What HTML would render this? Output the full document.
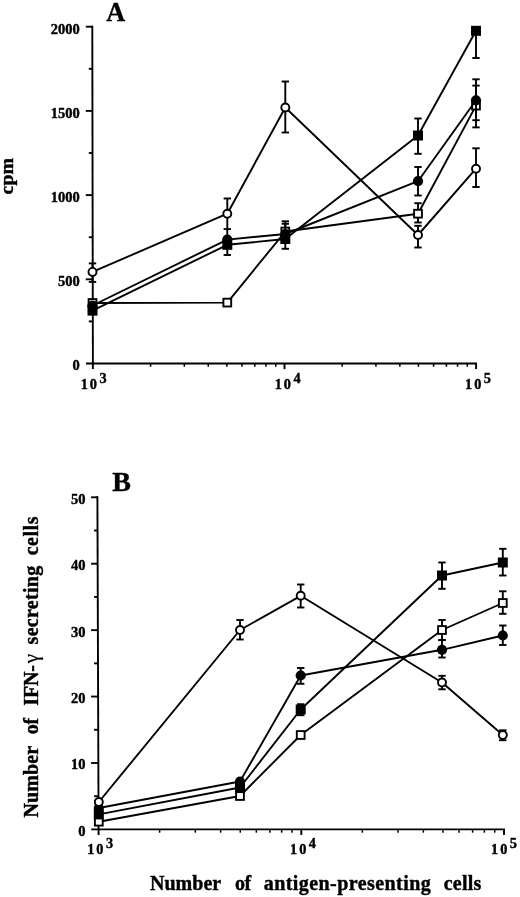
<!DOCTYPE html>
<html><head><meta charset="utf-8"><title>Figure</title>
<style>html,body{margin:0;padding:0;background:#fff;}text{stroke:#000;stroke-width:0.4px;stroke-linejoin:round}body{width:520px;height:897px;position:relative;overflow:hidden;font-family:"Liberation Serif",serif;}</style>
</head><body>
<svg width="520" height="897" viewBox="0 0 520 897" style="display:block;position:absolute;left:0;top:0;will-change:transform;filter:blur(0.45px)" font-family="'Liberation Serif', serif" font-weight="bold" fill="#000" stroke="none">
<rect x="0" y="0" width="520" height="897" fill="#fff"/>
<line x1="92.30" y1="25.75" x2="92.90" y2="369.10" stroke="#000" stroke-width="1.9" stroke-linecap="butt"/>
<line x1="86.00" y1="363.50" x2="477.05" y2="363.50" stroke="#000" stroke-width="1.9" stroke-linecap="butt"/>
<line x1="85.80" y1="279.30" x2="92.60" y2="279.30" stroke="#000" stroke-width="1.9" stroke-linecap="butt"/>
<line x1="85.80" y1="195.10" x2="92.60" y2="195.10" stroke="#000" stroke-width="1.9" stroke-linecap="butt"/>
<line x1="85.80" y1="110.90" x2="92.60" y2="110.90" stroke="#000" stroke-width="1.9" stroke-linecap="butt"/>
<line x1="85.80" y1="26.70" x2="92.60" y2="26.70" stroke="#000" stroke-width="1.9" stroke-linecap="butt"/>
<line x1="88.80" y1="321.40" x2="92.60" y2="321.40" stroke="#000" stroke-width="1.9" stroke-linecap="butt"/>
<line x1="88.80" y1="237.20" x2="92.60" y2="237.20" stroke="#000" stroke-width="1.9" stroke-linecap="butt"/>
<line x1="88.80" y1="153.00" x2="92.60" y2="153.00" stroke="#000" stroke-width="1.9" stroke-linecap="butt"/>
<line x1="88.80" y1="68.80" x2="92.60" y2="68.80" stroke="#000" stroke-width="1.9" stroke-linecap="butt"/>
<line x1="150.58" y1="363.50" x2="150.58" y2="366.80" stroke="#000" stroke-width="1.5" stroke-linecap="butt"/>
<line x1="184.32" y1="363.50" x2="184.32" y2="366.80" stroke="#000" stroke-width="1.5" stroke-linecap="butt"/>
<line x1="208.25" y1="363.50" x2="208.25" y2="366.80" stroke="#000" stroke-width="1.5" stroke-linecap="butt"/>
<line x1="226.82" y1="363.50" x2="226.82" y2="366.80" stroke="#000" stroke-width="1.5" stroke-linecap="butt"/>
<line x1="241.99" y1="363.50" x2="241.99" y2="366.80" stroke="#000" stroke-width="1.5" stroke-linecap="butt"/>
<line x1="254.82" y1="363.50" x2="254.82" y2="366.80" stroke="#000" stroke-width="1.5" stroke-linecap="butt"/>
<line x1="265.93" y1="363.50" x2="265.93" y2="366.80" stroke="#000" stroke-width="1.5" stroke-linecap="butt"/>
<line x1="275.73" y1="363.50" x2="275.73" y2="366.80" stroke="#000" stroke-width="1.5" stroke-linecap="butt"/>
<line x1="342.18" y1="363.50" x2="342.18" y2="366.80" stroke="#000" stroke-width="1.5" stroke-linecap="butt"/>
<line x1="375.92" y1="363.50" x2="375.92" y2="366.80" stroke="#000" stroke-width="1.5" stroke-linecap="butt"/>
<line x1="399.85" y1="363.50" x2="399.85" y2="366.80" stroke="#000" stroke-width="1.5" stroke-linecap="butt"/>
<line x1="418.42" y1="363.50" x2="418.42" y2="366.80" stroke="#000" stroke-width="1.5" stroke-linecap="butt"/>
<line x1="433.59" y1="363.50" x2="433.59" y2="366.80" stroke="#000" stroke-width="1.5" stroke-linecap="butt"/>
<line x1="446.42" y1="363.50" x2="446.42" y2="366.80" stroke="#000" stroke-width="1.5" stroke-linecap="butt"/>
<line x1="457.53" y1="363.50" x2="457.53" y2="366.80" stroke="#000" stroke-width="1.5" stroke-linecap="butt"/>
<line x1="467.33" y1="363.50" x2="467.33" y2="366.80" stroke="#000" stroke-width="1.5" stroke-linecap="butt"/>
<line x1="284.50" y1="363.50" x2="284.50" y2="369.10" stroke="#000" stroke-width="1.9" stroke-linecap="butt"/>
<line x1="476.10" y1="363.50" x2="476.10" y2="369.10" stroke="#000" stroke-width="1.9" stroke-linecap="butt"/>
<text x="79.80" y="370.30" font-size="14.5" text-anchor="end" >0</text>
<text x="79.80" y="286.10" font-size="14.5" text-anchor="end" >500</text>
<text x="79.80" y="201.90" font-size="14.5" text-anchor="end" >1000</text>
<text x="79.80" y="117.70" font-size="14.5" text-anchor="end" >1500</text>
<text x="79.80" y="33.50" font-size="14.5" text-anchor="end" >2000</text>
<text x="80.80" y="388.90" font-size="14.3" letter-spacing="1.9">10</text>
<text x="99.40" y="382.60" font-size="14.3">3</text>
<text x="274.80" y="388.90" font-size="14.3" letter-spacing="1.9">10</text>
<text x="293.40" y="382.60" font-size="14.3">4</text>
<text x="465.10" y="388.90" font-size="14.3" letter-spacing="1.9">10</text>
<text x="483.70" y="382.60" font-size="14.3">5</text>
<text transform="translate(106.2,21.4) scale(0.94,1)" font-size="28">A</text>
<text transform="translate(12.8,194.4) rotate(-90)" font-size="19.8">cpm</text>
<polyline fill="none" stroke="#000" stroke-width="1.9" stroke-linejoin="round" points="92.50,303.00 227.30,302.60 285.30,231.50 418.00,213.70 476.00,105.60"/>
<line x1="285.30" y1="223.80" x2="285.30" y2="239.00" stroke="#000" stroke-width="1.9" stroke-linecap="butt"/>
<line x1="281.60" y1="223.80" x2="289.00" y2="223.80" stroke="#000" stroke-width="1.9" stroke-linecap="butt"/>
<line x1="281.60" y1="239.00" x2="289.00" y2="239.00" stroke="#000" stroke-width="1.9" stroke-linecap="butt"/>
<line x1="418.00" y1="203.20" x2="418.00" y2="222.50" stroke="#000" stroke-width="1.9" stroke-linecap="butt"/>
<line x1="414.30" y1="203.20" x2="421.70" y2="203.20" stroke="#000" stroke-width="1.9" stroke-linecap="butt"/>
<line x1="414.30" y1="222.50" x2="421.70" y2="222.50" stroke="#000" stroke-width="1.9" stroke-linecap="butt"/>
<line x1="476.00" y1="85.60" x2="476.00" y2="127.40" stroke="#000" stroke-width="1.9" stroke-linecap="butt"/>
<line x1="472.30" y1="85.60" x2="479.70" y2="85.60" stroke="#000" stroke-width="1.9" stroke-linecap="butt"/>
<line x1="472.30" y1="127.40" x2="479.70" y2="127.40" stroke="#000" stroke-width="1.9" stroke-linecap="butt"/>
<rect x="88.60" y="299.10" width="7.80" height="7.80" fill="#fff" stroke="#000" stroke-width="1.9"/>
<rect x="223.40" y="298.70" width="7.80" height="7.80" fill="#fff" stroke="#000" stroke-width="1.9"/>
<rect x="281.40" y="227.60" width="7.80" height="7.80" fill="#fff" stroke="#000" stroke-width="1.9"/>
<rect x="414.10" y="209.80" width="7.80" height="7.80" fill="#fff" stroke="#000" stroke-width="1.9"/>
<rect x="472.10" y="101.70" width="7.80" height="7.80" fill="#fff" stroke="#000" stroke-width="1.9"/>
<polyline fill="none" stroke="#000" stroke-width="1.9" stroke-linejoin="round" points="92.50,305.50 227.30,239.60 285.30,234.00 418.00,181.20 476.00,100.30"/>
<line x1="227.30" y1="229.10" x2="227.30" y2="240.00" stroke="#000" stroke-width="1.9" stroke-linecap="butt"/>
<line x1="285.30" y1="221.30" x2="285.30" y2="240.00" stroke="#000" stroke-width="1.9" stroke-linecap="butt"/>
<line x1="281.60" y1="221.30" x2="289.00" y2="221.30" stroke="#000" stroke-width="1.9" stroke-linecap="butt"/>
<line x1="418.00" y1="167.00" x2="418.00" y2="195.50" stroke="#000" stroke-width="1.9" stroke-linecap="butt"/>
<line x1="414.30" y1="167.00" x2="421.70" y2="167.00" stroke="#000" stroke-width="1.9" stroke-linecap="butt"/>
<line x1="414.30" y1="195.50" x2="421.70" y2="195.50" stroke="#000" stroke-width="1.9" stroke-linecap="butt"/>
<line x1="476.00" y1="79.30" x2="476.00" y2="120.20" stroke="#000" stroke-width="1.9" stroke-linecap="butt"/>
<line x1="472.30" y1="79.30" x2="479.70" y2="79.30" stroke="#000" stroke-width="1.9" stroke-linecap="butt"/>
<line x1="472.30" y1="120.20" x2="479.70" y2="120.20" stroke="#000" stroke-width="1.9" stroke-linecap="butt"/>
<circle cx="92.50" cy="305.50" r="5.10" fill="#000"/>
<circle cx="227.30" cy="239.60" r="5.10" fill="#000"/>
<circle cx="285.30" cy="234.00" r="5.10" fill="#000"/>
<circle cx="418.00" cy="181.20" r="5.10" fill="#000"/>
<circle cx="476.00" cy="100.30" r="5.10" fill="#000"/>
<polyline fill="none" stroke="#000" stroke-width="1.9" stroke-linejoin="round" points="92.50,310.60 227.30,244.80 285.30,239.00 418.00,135.50 476.00,30.80"/>
<line x1="227.30" y1="236.00" x2="227.30" y2="255.00" stroke="#000" stroke-width="1.9" stroke-linecap="butt"/>
<line x1="223.60" y1="255.00" x2="231.00" y2="255.00" stroke="#000" stroke-width="1.9" stroke-linecap="butt"/>
<line x1="285.30" y1="230.00" x2="285.30" y2="248.80" stroke="#000" stroke-width="1.9" stroke-linecap="butt"/>
<line x1="281.60" y1="248.80" x2="289.00" y2="248.80" stroke="#000" stroke-width="1.9" stroke-linecap="butt"/>
<line x1="418.00" y1="118.50" x2="418.00" y2="153.80" stroke="#000" stroke-width="1.9" stroke-linecap="butt"/>
<line x1="414.30" y1="118.50" x2="421.70" y2="118.50" stroke="#000" stroke-width="1.9" stroke-linecap="butt"/>
<line x1="414.30" y1="153.80" x2="421.70" y2="153.80" stroke="#000" stroke-width="1.9" stroke-linecap="butt"/>
<line x1="476.00" y1="30.80" x2="476.00" y2="58.00" stroke="#000" stroke-width="1.9" stroke-linecap="butt"/>
<line x1="472.30" y1="58.00" x2="479.70" y2="58.00" stroke="#000" stroke-width="1.9" stroke-linecap="butt"/>
<rect x="87.50" y="305.60" width="10.00" height="10.00" fill="#000"/>
<rect x="222.30" y="239.80" width="10.00" height="10.00" fill="#000"/>
<rect x="280.30" y="234.00" width="10.00" height="10.00" fill="#000"/>
<rect x="413.00" y="130.50" width="10.00" height="10.00" fill="#000"/>
<rect x="471.00" y="25.80" width="10.00" height="10.00" fill="#000"/>
<polyline fill="none" stroke="#000" stroke-width="1.9" stroke-linejoin="round" points="92.50,271.90 227.30,213.70 285.30,107.50 418.00,235.00 476.00,168.70"/>
<line x1="92.50" y1="263.40" x2="92.50" y2="281.90" stroke="#000" stroke-width="1.9" stroke-linecap="butt"/>
<line x1="88.80" y1="263.40" x2="96.20" y2="263.40" stroke="#000" stroke-width="1.9" stroke-linecap="butt"/>
<line x1="88.80" y1="281.90" x2="96.20" y2="281.90" stroke="#000" stroke-width="1.9" stroke-linecap="butt"/>
<line x1="227.30" y1="198.50" x2="227.30" y2="229.10" stroke="#000" stroke-width="1.9" stroke-linecap="butt"/>
<line x1="223.60" y1="198.50" x2="231.00" y2="198.50" stroke="#000" stroke-width="1.9" stroke-linecap="butt"/>
<line x1="223.60" y1="229.10" x2="231.00" y2="229.10" stroke="#000" stroke-width="1.9" stroke-linecap="butt"/>
<line x1="285.30" y1="81.50" x2="285.30" y2="132.50" stroke="#000" stroke-width="1.9" stroke-linecap="butt"/>
<line x1="281.60" y1="81.50" x2="289.00" y2="81.50" stroke="#000" stroke-width="1.9" stroke-linecap="butt"/>
<line x1="281.60" y1="132.50" x2="289.00" y2="132.50" stroke="#000" stroke-width="1.9" stroke-linecap="butt"/>
<line x1="418.00" y1="225.80" x2="418.00" y2="247.50" stroke="#000" stroke-width="1.9" stroke-linecap="butt"/>
<line x1="414.30" y1="225.80" x2="421.70" y2="225.80" stroke="#000" stroke-width="1.9" stroke-linecap="butt"/>
<line x1="414.30" y1="247.50" x2="421.70" y2="247.50" stroke="#000" stroke-width="1.9" stroke-linecap="butt"/>
<line x1="476.00" y1="148.30" x2="476.00" y2="187.00" stroke="#000" stroke-width="1.9" stroke-linecap="butt"/>
<line x1="472.30" y1="148.30" x2="479.70" y2="148.30" stroke="#000" stroke-width="1.9" stroke-linecap="butt"/>
<line x1="472.30" y1="187.00" x2="479.70" y2="187.00" stroke="#000" stroke-width="1.9" stroke-linecap="butt"/>
<circle cx="92.50" cy="271.90" r="4.00" fill="#fff" stroke="#000" stroke-width="1.9"/>
<circle cx="227.30" cy="213.70" r="4.00" fill="#fff" stroke="#000" stroke-width="1.9"/>
<circle cx="285.30" cy="107.50" r="4.00" fill="#fff" stroke="#000" stroke-width="1.9"/>
<circle cx="418.00" cy="235.00" r="4.00" fill="#fff" stroke="#000" stroke-width="1.9"/>
<circle cx="476.00" cy="168.70" r="4.00" fill="#fff" stroke="#000" stroke-width="1.9"/>
<line x1="97.40" y1="496.35" x2="98.60" y2="835.00" stroke="#000" stroke-width="1.9" stroke-linecap="butt"/>
<line x1="91.30" y1="829.40" x2="504.95" y2="829.40" stroke="#000" stroke-width="1.9" stroke-linecap="butt"/>
<line x1="91.10" y1="762.98" x2="97.90" y2="762.98" stroke="#000" stroke-width="1.9" stroke-linecap="butt"/>
<line x1="91.10" y1="696.56" x2="97.90" y2="696.56" stroke="#000" stroke-width="1.9" stroke-linecap="butt"/>
<line x1="91.10" y1="630.14" x2="97.90" y2="630.14" stroke="#000" stroke-width="1.9" stroke-linecap="butt"/>
<line x1="91.10" y1="563.72" x2="97.90" y2="563.72" stroke="#000" stroke-width="1.9" stroke-linecap="butt"/>
<line x1="91.10" y1="497.30" x2="97.90" y2="497.30" stroke="#000" stroke-width="1.9" stroke-linecap="butt"/>
<line x1="94.10" y1="796.19" x2="97.90" y2="796.19" stroke="#000" stroke-width="1.9" stroke-linecap="butt"/>
<line x1="94.10" y1="729.77" x2="97.90" y2="729.77" stroke="#000" stroke-width="1.9" stroke-linecap="butt"/>
<line x1="94.10" y1="663.35" x2="97.90" y2="663.35" stroke="#000" stroke-width="1.9" stroke-linecap="butt"/>
<line x1="94.10" y1="596.93" x2="97.90" y2="596.93" stroke="#000" stroke-width="1.9" stroke-linecap="butt"/>
<line x1="94.10" y1="530.51" x2="97.90" y2="530.51" stroke="#000" stroke-width="1.9" stroke-linecap="butt"/>
<line x1="159.62" y1="829.40" x2="159.62" y2="832.70" stroke="#000" stroke-width="1.5" stroke-linecap="butt"/>
<line x1="195.31" y1="829.40" x2="195.31" y2="832.70" stroke="#000" stroke-width="1.5" stroke-linecap="butt"/>
<line x1="220.64" y1="829.40" x2="220.64" y2="832.70" stroke="#000" stroke-width="1.5" stroke-linecap="butt"/>
<line x1="240.28" y1="829.40" x2="240.28" y2="832.70" stroke="#000" stroke-width="1.5" stroke-linecap="butt"/>
<line x1="256.33" y1="829.40" x2="256.33" y2="832.70" stroke="#000" stroke-width="1.5" stroke-linecap="butt"/>
<line x1="269.90" y1="829.40" x2="269.90" y2="832.70" stroke="#000" stroke-width="1.5" stroke-linecap="butt"/>
<line x1="281.66" y1="829.40" x2="281.66" y2="832.70" stroke="#000" stroke-width="1.5" stroke-linecap="butt"/>
<line x1="292.02" y1="829.40" x2="292.02" y2="832.70" stroke="#000" stroke-width="1.5" stroke-linecap="butt"/>
<line x1="362.32" y1="829.40" x2="362.32" y2="832.70" stroke="#000" stroke-width="1.5" stroke-linecap="butt"/>
<line x1="398.01" y1="829.40" x2="398.01" y2="832.70" stroke="#000" stroke-width="1.5" stroke-linecap="butt"/>
<line x1="423.34" y1="829.40" x2="423.34" y2="832.70" stroke="#000" stroke-width="1.5" stroke-linecap="butt"/>
<line x1="442.98" y1="829.40" x2="442.98" y2="832.70" stroke="#000" stroke-width="1.5" stroke-linecap="butt"/>
<line x1="459.03" y1="829.40" x2="459.03" y2="832.70" stroke="#000" stroke-width="1.5" stroke-linecap="butt"/>
<line x1="472.60" y1="829.40" x2="472.60" y2="832.70" stroke="#000" stroke-width="1.5" stroke-linecap="butt"/>
<line x1="484.36" y1="829.40" x2="484.36" y2="832.70" stroke="#000" stroke-width="1.5" stroke-linecap="butt"/>
<line x1="494.72" y1="829.40" x2="494.72" y2="832.70" stroke="#000" stroke-width="1.5" stroke-linecap="butt"/>
<line x1="301.30" y1="829.40" x2="301.30" y2="835.00" stroke="#000" stroke-width="1.9" stroke-linecap="butt"/>
<line x1="504.00" y1="829.40" x2="504.00" y2="835.00" stroke="#000" stroke-width="1.9" stroke-linecap="butt"/>
<text x="85.40" y="835.90" font-size="14.5" text-anchor="end" >0</text>
<text x="85.40" y="769.48" font-size="14.5" text-anchor="end" >10</text>
<text x="85.40" y="703.06" font-size="14.5" text-anchor="end" >20</text>
<text x="85.40" y="636.64" font-size="14.5" text-anchor="end" >30</text>
<text x="85.40" y="570.22" font-size="14.5" text-anchor="end" >40</text>
<text x="85.40" y="503.80" font-size="14.5" text-anchor="end" >50</text>
<text x="87.30" y="854.30" font-size="14.3" letter-spacing="1.9">10</text>
<text x="105.90" y="848.00" font-size="14.3">3</text>
<text x="290.10" y="854.30" font-size="14.3" letter-spacing="1.9">10</text>
<text x="308.70" y="848.00" font-size="14.3">4</text>
<text x="491.10" y="854.30" font-size="14.3" letter-spacing="1.9">10</text>
<text x="509.70" y="848.00" font-size="14.3">5</text>
<text x="112.30" y="490.70" font-size="28" text-anchor="start" >B</text>
<g transform="translate(37.5,0) rotate(-90)">
<text x="-817.50" y="0.00" font-size="20" textLength="71.60" lengthAdjust="spacing" >Number</text>
<text x="-734.30" y="0.00" font-size="20" textLength="16.50" lengthAdjust="spacing" >of</text>
<text x="-705.70" y="0.00" font-size="20" textLength="40.70" lengthAdjust="spacing" >IFN-</text>
<text x="-663.3" y="0" font-size="21" font-weight="normal" style="stroke-width:0.2px">γ</text>
<text x="-644.40" y="0.00" font-size="20" textLength="78.60" lengthAdjust="spacing" >secreting</text>
<text x="-555.30" y="0.00" font-size="20" textLength="38.80" lengthAdjust="spacing" >cells</text>
</g>
<text x="150.00" y="890.30" font-size="20" textLength="71.25" lengthAdjust="spacing" >Number</text>
<text x="235.00" y="890.30" font-size="20" textLength="16.25" lengthAdjust="spacing" >of</text>
<text x="263.75" y="890.30" font-size="20" textLength="167.00" lengthAdjust="spacing" >antigen-presenting</text>
<text x="443.75" y="890.30" font-size="20" textLength="37.50" lengthAdjust="spacing" >cells</text>
<polyline fill="none" stroke="#000" stroke-width="1.9" stroke-linejoin="round" points="98.80,821.70 240.00,796.00 300.70,735.00 442.00,630.00 502.80,603.00"/>
<line x1="442.00" y1="620.00" x2="442.00" y2="640.00" stroke="#000" stroke-width="1.9" stroke-linecap="butt"/>
<line x1="438.30" y1="620.00" x2="445.70" y2="620.00" stroke="#000" stroke-width="1.9" stroke-linecap="butt"/>
<line x1="438.30" y1="640.00" x2="445.70" y2="640.00" stroke="#000" stroke-width="1.9" stroke-linecap="butt"/>
<line x1="502.80" y1="591.30" x2="502.80" y2="613.80" stroke="#000" stroke-width="1.9" stroke-linecap="butt"/>
<line x1="499.10" y1="591.30" x2="506.50" y2="591.30" stroke="#000" stroke-width="1.9" stroke-linecap="butt"/>
<line x1="499.10" y1="613.80" x2="506.50" y2="613.80" stroke="#000" stroke-width="1.9" stroke-linecap="butt"/>
<rect x="94.90" y="817.80" width="7.80" height="7.80" fill="#fff" stroke="#000" stroke-width="1.9"/>
<rect x="236.10" y="792.10" width="7.80" height="7.80" fill="#fff" stroke="#000" stroke-width="1.9"/>
<rect x="296.80" y="731.10" width="7.80" height="7.80" fill="#fff" stroke="#000" stroke-width="1.9"/>
<rect x="438.10" y="626.10" width="7.80" height="7.80" fill="#fff" stroke="#000" stroke-width="1.9"/>
<rect x="498.90" y="599.10" width="7.80" height="7.80" fill="#fff" stroke="#000" stroke-width="1.9"/>
<polyline fill="none" stroke="#000" stroke-width="1.9" stroke-linejoin="round" points="98.80,808.00 240.00,781.50 300.70,675.50 442.00,649.80 502.80,635.50"/>
<line x1="300.70" y1="668.00" x2="300.70" y2="683.80" stroke="#000" stroke-width="1.9" stroke-linecap="butt"/>
<line x1="297.00" y1="668.00" x2="304.40" y2="668.00" stroke="#000" stroke-width="1.9" stroke-linecap="butt"/>
<line x1="297.00" y1="683.80" x2="304.40" y2="683.80" stroke="#000" stroke-width="1.9" stroke-linecap="butt"/>
<line x1="442.00" y1="640.00" x2="442.00" y2="657.50" stroke="#000" stroke-width="1.9" stroke-linecap="butt"/>
<line x1="438.30" y1="640.00" x2="445.70" y2="640.00" stroke="#000" stroke-width="1.9" stroke-linecap="butt"/>
<line x1="438.30" y1="657.50" x2="445.70" y2="657.50" stroke="#000" stroke-width="1.9" stroke-linecap="butt"/>
<line x1="502.80" y1="625.50" x2="502.80" y2="645.00" stroke="#000" stroke-width="1.9" stroke-linecap="butt"/>
<line x1="499.10" y1="625.50" x2="506.50" y2="625.50" stroke="#000" stroke-width="1.9" stroke-linecap="butt"/>
<line x1="499.10" y1="645.00" x2="506.50" y2="645.00" stroke="#000" stroke-width="1.9" stroke-linecap="butt"/>
<circle cx="98.80" cy="808.00" r="5.10" fill="#000"/>
<circle cx="240.00" cy="781.50" r="5.10" fill="#000"/>
<circle cx="300.70" cy="675.50" r="5.10" fill="#000"/>
<circle cx="442.00" cy="649.80" r="5.10" fill="#000"/>
<circle cx="502.80" cy="635.50" r="5.10" fill="#000"/>
<polyline fill="none" stroke="#000" stroke-width="1.9" stroke-linejoin="round" points="98.80,814.40 240.00,787.50 300.70,709.50 442.00,575.50 502.80,562.50"/>
<line x1="300.70" y1="704.20" x2="300.70" y2="715.20" stroke="#000" stroke-width="1.9" stroke-linecap="butt"/>
<line x1="297.00" y1="704.20" x2="304.40" y2="704.20" stroke="#000" stroke-width="1.9" stroke-linecap="butt"/>
<line x1="297.00" y1="715.20" x2="304.40" y2="715.20" stroke="#000" stroke-width="1.9" stroke-linecap="butt"/>
<line x1="442.00" y1="562.50" x2="442.00" y2="588.80" stroke="#000" stroke-width="1.9" stroke-linecap="butt"/>
<line x1="438.30" y1="562.50" x2="445.70" y2="562.50" stroke="#000" stroke-width="1.9" stroke-linecap="butt"/>
<line x1="438.30" y1="588.80" x2="445.70" y2="588.80" stroke="#000" stroke-width="1.9" stroke-linecap="butt"/>
<line x1="502.80" y1="548.80" x2="502.80" y2="575.50" stroke="#000" stroke-width="1.9" stroke-linecap="butt"/>
<line x1="499.10" y1="548.80" x2="506.50" y2="548.80" stroke="#000" stroke-width="1.9" stroke-linecap="butt"/>
<line x1="499.10" y1="575.50" x2="506.50" y2="575.50" stroke="#000" stroke-width="1.9" stroke-linecap="butt"/>
<rect x="93.80" y="809.40" width="10.00" height="10.00" fill="#000"/>
<rect x="235.00" y="782.50" width="10.00" height="10.00" fill="#000"/>
<rect x="295.70" y="704.50" width="10.00" height="10.00" fill="#000"/>
<rect x="437.00" y="570.50" width="10.00" height="10.00" fill="#000"/>
<rect x="497.80" y="557.50" width="10.00" height="10.00" fill="#000"/>
<polyline fill="none" stroke="#000" stroke-width="1.9" stroke-linejoin="round" points="98.80,802.00 240.00,630.00 300.70,595.80 442.00,682.50 502.80,735.00"/>
<line x1="240.00" y1="620.00" x2="240.00" y2="639.50" stroke="#000" stroke-width="1.9" stroke-linecap="butt"/>
<line x1="236.30" y1="620.00" x2="243.70" y2="620.00" stroke="#000" stroke-width="1.9" stroke-linecap="butt"/>
<line x1="236.30" y1="639.50" x2="243.70" y2="639.50" stroke="#000" stroke-width="1.9" stroke-linecap="butt"/>
<line x1="300.70" y1="584.50" x2="300.70" y2="607.50" stroke="#000" stroke-width="1.9" stroke-linecap="butt"/>
<line x1="297.00" y1="584.50" x2="304.40" y2="584.50" stroke="#000" stroke-width="1.9" stroke-linecap="butt"/>
<line x1="297.00" y1="607.50" x2="304.40" y2="607.50" stroke="#000" stroke-width="1.9" stroke-linecap="butt"/>
<line x1="442.00" y1="675.80" x2="442.00" y2="689.30" stroke="#000" stroke-width="1.9" stroke-linecap="butt"/>
<line x1="438.30" y1="675.80" x2="445.70" y2="675.80" stroke="#000" stroke-width="1.9" stroke-linecap="butt"/>
<line x1="438.30" y1="689.30" x2="445.70" y2="689.30" stroke="#000" stroke-width="1.9" stroke-linecap="butt"/>
<line x1="502.80" y1="730.30" x2="502.80" y2="740.20" stroke="#000" stroke-width="1.9" stroke-linecap="butt"/>
<line x1="499.10" y1="730.30" x2="506.50" y2="730.30" stroke="#000" stroke-width="1.9" stroke-linecap="butt"/>
<line x1="499.10" y1="740.20" x2="506.50" y2="740.20" stroke="#000" stroke-width="1.9" stroke-linecap="butt"/>
<circle cx="98.80" cy="802.00" r="4.00" fill="#fff" stroke="#000" stroke-width="1.9"/>
<circle cx="240.00" cy="630.00" r="4.00" fill="#fff" stroke="#000" stroke-width="1.9"/>
<circle cx="300.70" cy="595.80" r="4.00" fill="#fff" stroke="#000" stroke-width="1.9"/>
<circle cx="442.00" cy="682.50" r="4.00" fill="#fff" stroke="#000" stroke-width="1.9"/>
<circle cx="502.80" cy="735.00" r="4.00" fill="#fff" stroke="#000" stroke-width="1.9"/>
</svg>
</body></html>
